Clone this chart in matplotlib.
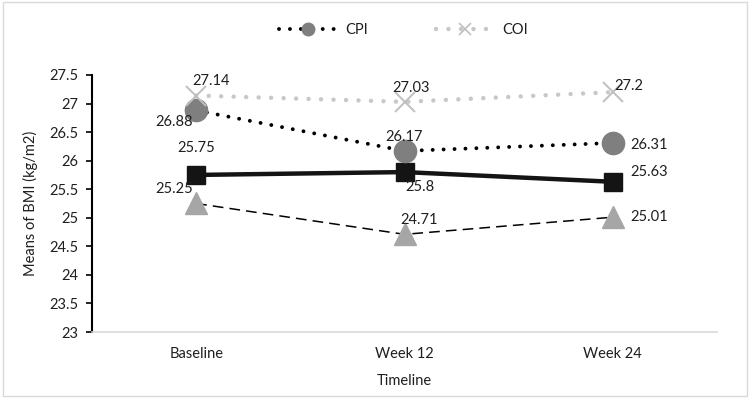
import matplotlib
matplotlib.use("Agg")
import matplotlib.pyplot as plt
from matplotlib.lines import Line2D
from matplotlib.patches import Rectangle

plt.rcParams['font.family'] = ['Lato', 'DejaVu Sans']

# Data
timepoints = ["Baseline", "Week 12", "Week 24"]
cpi = [26.88, 26.17, 26.31]
coi = [27.14, 27.03, 27.20]
group_sq = [25.75, 25.80, 25.63]
group_tri = [25.25, 24.71, 25.01]
y_ticks = [23, 23.5, 24, 24.5, 25, 25.5, 26, 26.5, 27, 27.5]

# Data label offsets (pixels) per series and time point
off_coi = [(15, 15), (7, 14), (16, 6)]
off_cpi = [(-22, -12), (0, 14), (36, -2)]
off_sq = [(0, 27), (15, -15), (36, 10)]
off_tri = [(-22, 14), (15, 14), (36, 0)]

FS = 10.5
TXT = '#1f1f1f'
DOTS = (0, (0.01, 2.8))

fig = plt.figure(figsize=(7.5, 3.98), dpi=100)
fig.patches.append(Rectangle((0.004, 0.004), 0.992, 0.992, transform=fig.transFigure,
                             fill=False, edgecolor='#d9d9d9', linewidth=1))
ax = fig.add_axes([0.1227, 0.1658, 0.8333, 0.6458])

x = list(range(len(timepoints)))

ax.plot(x, group_tri, color='black', linewidth=1.1, linestyle=(0, (7, 4)),
        marker='^', markersize=16, markerfacecolor='#a6a6a6', markeredgecolor='#a6a6a6', zorder=2)
ax.plot(x, group_sq, color='#141414', linewidth=3.2, marker='s', markersize=13.5,
        markerfacecolor='#141414', markeredgecolor='#141414', zorder=3)
ax.plot(x, cpi, color='black', linewidth=2.8, linestyle=DOTS, dash_capstyle='round',
        marker='o', markersize=16, markerfacecolor='#7f7f7f', markeredgecolor='#7f7f7f', zorder=4)
ax.plot(x, coi, color='#c8c8c8', linewidth=3.2, linestyle=DOTS, dash_capstyle='round',
        marker='x', markersize=15, markeredgewidth=1.4, markeredgecolor='#bfbfbf', zorder=4)

for vals, offs in [(coi, off_coi), (cpi, off_cpi), (group_sq, off_sq), (group_tri, off_tri)]:
    for xi, v, (dx, dy) in zip(x, vals, offs):
        ax.annotate(f"{v:g}", (xi, v), xytext=(dx, dy), textcoords='offset pixels',
                    ha='center', va='center', fontsize=FS, color=TXT, zorder=6)

ax.set_xlim(-0.5, 2.5)
ax.set_ylim(23, 27.5)
ax.set_yticks(y_ticks)
ax.set_yticklabels([f"{t:g}" for t in y_ticks])
ax.set_xticks(x)
ax.set_xticklabels(timepoints)

ax.spines['top'].set_visible(False)
ax.spines['right'].set_visible(False)
ax.spines['left'].set_color('black')
ax.spines['left'].set_linewidth(1.5)
ax.spines['bottom'].set_color('#d9d9d9')
ax.spines['bottom'].set_linewidth(1.2)
ax.tick_params(axis='y', length=4, width=1.2, color='black', labelsize=FS, labelcolor=TXT, pad=6)
ax.tick_params(axis='x', length=0, labelsize=FS, labelcolor=TXT, pad=11)

ax.set_ylabel("Means of BMI (kg/m2)", fontsize=FS, color=TXT, labelpad=8)
ax.set_xlabel("Timeline", fontsize=FS, color=TXT, labelpad=9)

handles = [
    Line2D([], [], color='black', linewidth=2.8, linestyle=DOTS, dash_capstyle='round',
           marker='o', markersize=9, markerfacecolor='#7f7f7f', markeredgecolor='#7f7f7f'),
    Line2D([], [], color='#c8c8c8', linewidth=3.2, linestyle=DOTS, dash_capstyle='round',
           marker='x', markersize=8, markeredgewidth=1.2, markeredgecolor='#bfbfbf'),
]
fig.legend(handles, ["CPI", "COI"], loc='center', bbox_to_anchor=(0.538, 0.925), ncol=2,
           frameon=False, fontsize=FS, handlelength=4.0, columnspacing=4.6, numpoints=1,
           handletextpad=0.6, labelcolor=TXT)

fig.savefig("out.png", dpi=100)
